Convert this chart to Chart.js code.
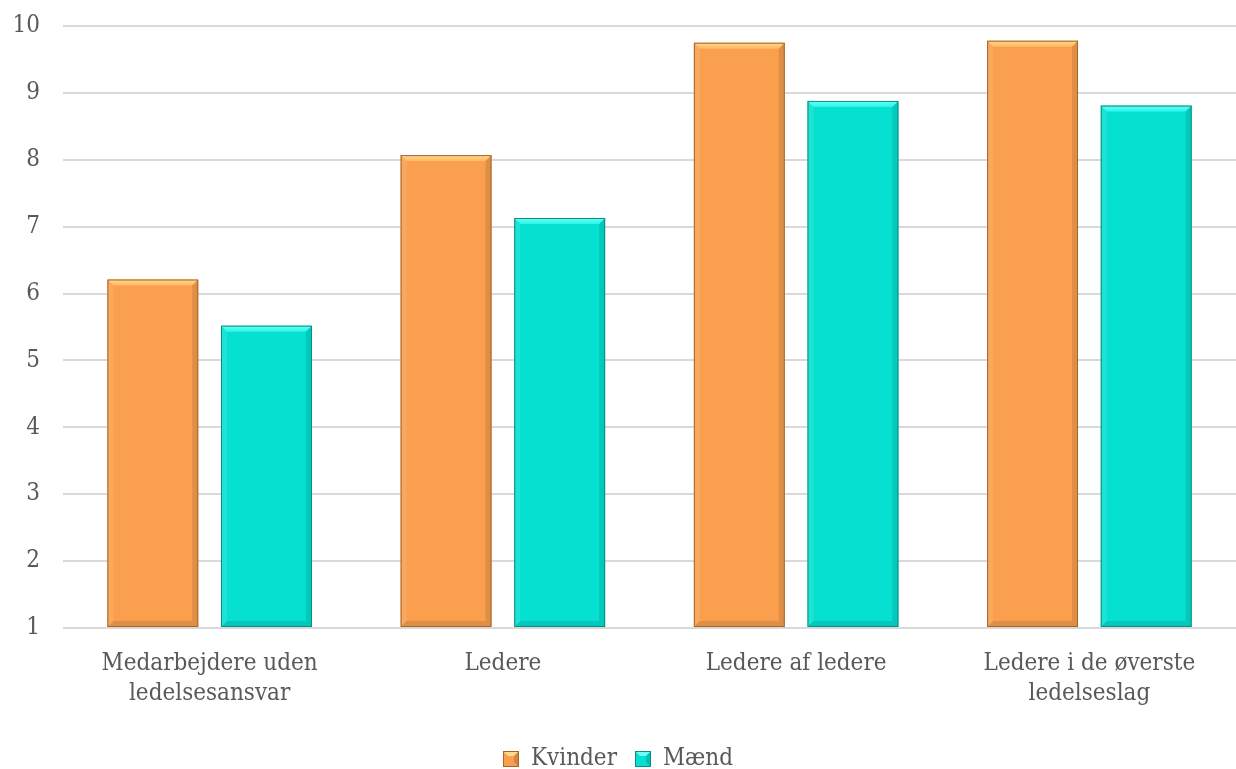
<!DOCTYPE html>
<html><head><meta charset="utf-8">
<script src="https://cdn.jsdelivr.net/npm/chart.js@4/dist/chart.umd.min.js"></script>
<style>html,body{margin:0;padding:0;background:#fff}#wrap{width:1236px;height:769px}</style>
</head><body><div id="wrap"><canvas id="c" width="1236" height="769"></canvas></div>
<script>
const categories = [["Medarbejdere uden","ledelsesansvar"],"Ledere","Ledere af ledere",["Ledere i de øverste","ledelseslag"]];
const kvinder = [6.21, 8.07, 9.75, 9.78];
const maend = [5.52, 7.13, 8.88, 8.81];
const seriesNames = ["Kvinder","Mænd"];
const yMin = 1, yMax = 10;

function legendBox(fill, top, border){
  const c = document.createElement('canvas'); c.width = 16; c.height = 16;
  const g = c.getContext('2d');
  g.fillStyle = fill; g.fillRect(0,0,16,16);
  g.fillStyle = top; g.beginPath(); g.moveTo(0,0); g.lineTo(16,0); g.lineTo(11,5); g.lineTo(5,5); g.closePath(); g.fill();
  g.fillStyle='rgba(0,0,0,0.15)'; g.beginPath(); g.moveTo(16,0); g.lineTo(16,16); g.lineTo(11,11); g.lineTo(11,5); g.closePath(); g.fill();
  g.strokeStyle = border; g.lineWidth = 1; g.strokeRect(0.5,0.5,15,15);
  return c;
}

const bevel = {
  id:'bevel',
  afterLayout(chart){
    const lg = chart.legend;
    if (lg) { lg.top += 12; lg.bottom += 12; if (lg.legendHitBoxes) lg.legendHitBoxes.forEach(h=>h.top += 12); }
  },
  afterDatasetsDraw(chart){
    const ctx = chart.ctx;
    chart.data.datasets.forEach((ds,i)=>{
      const meta = chart.getDatasetMeta(i);
      meta.data.forEach(bar=>{
        const x0 = bar.x - bar.width/2, x1 = bar.x + bar.width/2, y0 = bar.y, y1 = Math.min(bar.base, chart.chartArea.bottom);
        const b = 6;
        ctx.save();
        const tg = ctx.createLinearGradient(0,y0,0,y0+b);
        tg.addColorStop(0, ds.topColor); tg.addColorStop(1, ds.topColor2);
        ctx.beginPath();
        ctx.moveTo(x0,y0);ctx.lineTo(x1,y0);ctx.lineTo(x1-b,y0+b);ctx.lineTo(x0+b,y0+b);ctx.closePath();
        ctx.fillStyle = tg; ctx.fill();
        ctx.beginPath();
        ctx.moveTo(x0,y0);ctx.lineTo(x0+b,y0+b);ctx.lineTo(x0+b,y1-b);ctx.lineTo(x0,y1);ctx.closePath();
        ctx.fillStyle = 'rgba(255,255,255,0.10)'; ctx.fill();
        ctx.beginPath();
        ctx.moveTo(x1,y0);ctx.lineTo(x1-b,y0+b);ctx.lineTo(x1-b,y1-b);ctx.lineTo(x1,y1);ctx.closePath();
        ctx.fillStyle = 'rgba(0,0,0,0.10)'; ctx.fill();
        ctx.beginPath();
        ctx.moveTo(x0,y1);ctx.lineTo(x1,y1);ctx.lineTo(x1-b,y1-b);ctx.lineTo(x0+b,y1-b);ctx.closePath();
        ctx.fillStyle = 'rgba(0,0,0,0.10)'; ctx.fill();
        ctx.strokeStyle = ds.borderColor; ctx.lineWidth = 1;
        ctx.strokeRect(x0+0.5,y0+0.5,bar.width-1,y1-y0-1);
        ctx.restore();
      });
    });
  }
};

const FONT = 'DejaVu Serif Condensed';
new Chart(document.getElementById('c'),{
  type:'bar',
  data:{labels:categories,datasets:[
    {label:seriesNames[0],data:kvinder,base:yMin,backgroundColor:'#F99F4E',borderColor:'#A5642B',borderWidth:0,topColor:'#FFD98C',topColor2:'#FFB866',
     pointStyle:legendBox('#F99F4E','#FFD98C','#A5642B')},
    {label:seriesNames[1],data:maend,base:yMin,backgroundColor:'#05E0D0',borderColor:'#0B8C82',borderWidth:0,topColor:'#6AFFF6',topColor2:'#2CF5E8',
     pointStyle:legendBox('#05E0D0','#6AFFF6','#0B8C82')}
  ]},
  options:{
    responsive:false,animation:false,
    categoryPercentage:0.775,barPercentage:0.8,
    layout:{padding:{left:0,right:0,top:26,bottom:0}},
    scales:{
      x:{grid:{display:false},border:{display:false},
        ticks:{color:'#595959',font:{family:FONT,size:24,lineHeight:1.25},padding:13},
        afterFit(s){ s.height -= 5; s.paddingLeft = 0; s.paddingRight = 0; }},
      y:{min:yMin,max:yMax,ticks:{stepSize:1,color:'#595959',font:{family:FONT,size:24},padding:23},
        afterFit(s){ s.width = 63; s.paddingTop = 0; s.paddingBottom = 0; },
        grid:{color:'#d9d9d9',lineWidth:2,drawTicks:false},border:{display:false}}
    },
    plugins:{
      legend:{position:'bottom',labels:{color:'#595959',font:{family:FONT,size:24},usePointStyle:true,boxWidth:16,boxHeight:16,padding:18}},
      tooltip:{enabled:false}
    }
  },
  plugins:[bevel]
});
</script></body></html>
